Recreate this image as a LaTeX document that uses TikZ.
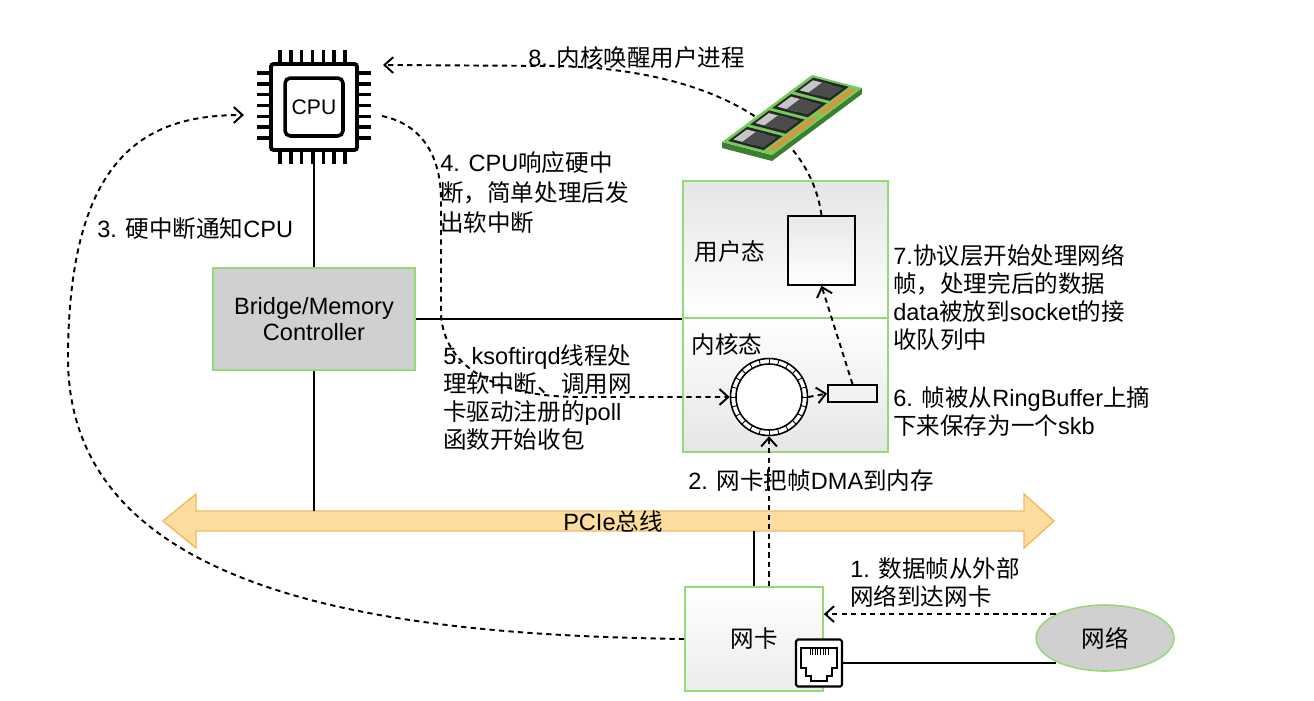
\documentclass[tikz,border=0pt]{standalone}
\usepackage{fontspec}
\setmainfont{Liberation Sans}
\newfontfamily\cjk{Noto Sans CJK SC}
\newcommand{\zh}[1]{{\cjk #1}}
\usepackage{tikz}
\usetikzlibrary{arrows.meta,calc,positioning,shapes.geometric}
\definecolor{boxgreen}{RGB}{150,218,120}
\definecolor{boxgray}{RGB}{208,208,208}
\definecolor{busfill}{RGB}{253,220,160}
\definecolor{busdraw}{RGB}{243,185,95}
\definecolor{pcb}{RGB}{118,202,92}
\definecolor{pcbdark}{RGB}{58,128,48}
\definecolor{gold}{RGB}{214,150,62}
\tikzset{
  lbl/.style={font=\fontsize{13.4}{16}\selectfont,inner sep=0pt,align=left,anchor=north west},
  wire/.style={line width=0.8pt},
  dsh/.style={line width=1.1pt,dash pattern=on 3pt off 2.4pt,->},
  gbox/.style={draw=boxgreen,line width=0.9pt},
  chip/.style={draw,line width=2.2pt,fill=white,rounded corners=1.5pt,minimum size=1.72cm,inner sep=0pt},
  die/.style={draw,line width=2pt,rounded corners=3pt,minimum size=1.16cm,inner sep=0pt,font=\fontsize{12}{14}\selectfont},
  pin/.style={line width=1.9pt},
}

\begin{document}
\begin{tikzpicture}[x=0.02cm,y=-0.02cm,>={Straight Barb[length=5pt,width=9pt]}]
\useasboundingbox (0,0) rectangle (1314,700);

% PCIe bus
\draw[busdraw,fill=busfill,line width=0.8pt] (163,521) -- (196,494) -- (196,511) -- (1024,511) -- (1024,494)
  -- (1054,521) -- (1024,548) -- (1024,531) -- (196,531) -- (196,548) -- cycle;
\node[lbl,anchor=center] (bus) at (613,521) {PCIe\zh{总线}};
\coordinate (busA) at (314,511);
\coordinate (busB) at (754,531);

% CPU
\node[chip] (cpu) at (314,107) {};
\node[die] (core) at (cpu) {CPU};
\foreach \i in {0,...,6} {
  \draw[pin] ($(cpu.north west)+(11+\i*10.8,0)$) -- ++(0,-12);
  \draw[pin] ($(cpu.south west)+(11+\i*10.8,0)$) -- ++(0,12);
  \draw[pin] ($(cpu.north west)+(0,11+\i*10.8)$) -- ++(-12,0);
  \draw[pin] ($(cpu.north east)+(0,11+\i*10.8)$) -- ++(12,0);
}

\node[gbox,fill=boxgray,minimum width=4.04cm,minimum height=2.04cm,align=center,
  font=\fontsize{13.4}{15}\selectfont] (bmc) at (314,319) {Bridge/Memory\\Controller};

% memory
\node[gbox,top color=gray!20,bottom color=white,minimum width=4.1cm,minimum height=2.74cm] (usr) at (785.5,249.5) {};
\node[gbox,top color=white,bottom color=gray!20,minimum width=4.1cm,minimum height=2.68cm] (krn) at (785.5,385) {};
\node[lbl,anchor=center] (ul) at (730,252) {\zh{用户态}};
\node[lbl,anchor=center] (kl) at (727,345) {\zh{内核态}};
\node[draw,line width=1pt,top color=gray!18,bottom color=white,minimum width=1.34cm,minimum height=1.38cm] (ubuf) at (821.5,250.5) {};
\node[draw,circle,line width=0.9pt,fill=white,minimum size=1.54cm,inner sep=0pt] (ring) at (769,397) {};
\draw[line width=0.9pt] (ring.center) circle[radius=33];
\foreach \a in {0,15,...,345}
  \draw[line width=0.5pt] ($(ring.center)+(\a:33)$) -- ($(ring.center)+(\a:38.5)$);
\node[draw,line width=1pt,fill=gray!10,minimum width=0.98cm,minimum height=0.34cm] (skb) at (852.5,393.5) {};

% NIC and network
\node[gbox,top color=white,bottom color=gray!15,minimum width=2.76cm,minimum height=2.08cm,
  font=\fontsize{13.4}{16}\selectfont] (nic) at (754,639) {\zh{网卡}};
\node[draw,line width=1.2pt,fill=white,rounded corners=1pt,minimum width=0.92cm,minimum height=0.94cm] (port) at (819,663) {};
\draw[line width=1pt] (801,648) -- (837,648) -- (837,668) -- (832,668) -- (832,676) -- (827,676) -- (827,681)
  -- (811,681) -- (811,676) -- (806,676) -- (806,668) -- (801,668) -- cycle;
\foreach \i in {0,...,7}
  \draw[line width=0.4pt] (810+\i*2.6,649) -- ++(0,6);
\node[ellipse,draw=boxgreen,line width=0.9pt,fill=boxgray,minimum width=2.76cm,minimum height=1.32cm,
  font=\fontsize{13.4}{16}\selectfont] (net) at (1105,638) {\zh{网络}};

% solid links
\path[wire]
  (cpu.south) edge (bmc.north)
  (bmc.south) edge (busA)
  (bmc.east) edge (bmc.east -| usr.west)
  (busB) edge (nic.north)
  (port.east) edge (port.east -| net.south west);

% flow
\coordinate (c3) at (244,115);
\coordinate (c4) at (382,116);
\coordinate (c8) at (383,65);
\path[dsh]
  (net.north west) edge (net.north west -| nic.east)
  (ring.south |- nic.north) edge (ring.south)
  (ring.east) edge (skb.west)
  (skb.north) edge (ubuf.south);
\draw[dsh] (nic.west) .. controls (400,635) and (70,600) .. (68,360) .. controls (68,150) and (150,115) .. (c3);
\draw[dsh] (c4) .. controls (425,125) and (441,160) .. (441,200) -- (441,315) .. controls (445,370) and (500,397) .. (580,397) -- (ring.west);
\draw[dsh] (ubuf.north) .. controls (808,120) and (700,70) .. (560,66) -- (c8);

% memory stick
\begin{scope}[shift={(722,142)},x={(1.8cm,1.34cm)},y={(1.0cm,-0.26cm)}]
  \fill[pcbdark] (0,0) -- (0,1) -- (1,1) -- ([yshift=-0.12cm]1,1) -- ([yshift=-0.12cm]0,1) -- ([yshift=-0.12cm]0,0) -- cycle;
  \fill[pcb] (0,0) -- (1,0) -- (1,1) -- (0,1) -- cycle;
  \foreach \a in {0.03,0.275,0.52,0.765} {
    \fill[black!85] (\a,0.07) -- (\a+0.21,0.07) -- (\a+0.21,0.78) -- (\a,0.78) -- cycle;
    \fill[gray!45] (\a+0.03,0.12) -- (\a+0.18,0.12) -- (\a+0.18,0.5) -- (\a+0.03,0.5) -- cycle;
    \fill[black!70] (\a+0.03,0.3) -- (\a+0.18,0.3) -- (\a+0.18,0.72) -- (\a+0.03,0.72) -- cycle;
  }
  \fill[gold] (0.05,0.83) -- (0.53,0.83) -- (0.53,0.95) -- (0.05,0.95) -- cycle;
  \fill[gold] (0.6,0.83) -- (0.96,0.83) -- (0.96,0.95) -- (0.6,0.95) -- cycle;
\end{scope}

% labels
\node[lbl] (l8) at (528,46) {8. \zh{内核唤醒用户进程}};
\node[lbl,font=\fontsize{13.4}{17}\selectfont] (l4) at (440,151) {4. CPU\zh{响应硬中}\\\zh{断，简单处理后发}\\\zh{出软中断}};
\node[lbl] (l3) at (97,217) {3. \zh{硬中断通知}CPU};
\node[lbl] (l5) at (443,344) {5. ksoftirqd\zh{线程处}\\\zh{理软中断、调用网}\\\zh{卡驱动注册的}poll\\\zh{函数开始收包}};
\node[lbl] (l7) at (893,244) {7.\zh{协议层开始处理网络}\\\zh{帧，处理完后的数据}\\data\zh{被放到}socket\zh{的接}\\\zh{收队列中}};
\node[lbl] (l6) at (893,386) {6. \zh{帧被从}RingBuffer\zh{上摘}\\\zh{下来保存为一个}skb};
\node[lbl] (l2) at (688,469) {2. \zh{网卡把帧}DMA\zh{到内存}};
\node[lbl] (l1) at (850,557) {1. \zh{数据帧从外部}\\\zh{网络到达网卡}};
\end{tikzpicture}
\end{document}
